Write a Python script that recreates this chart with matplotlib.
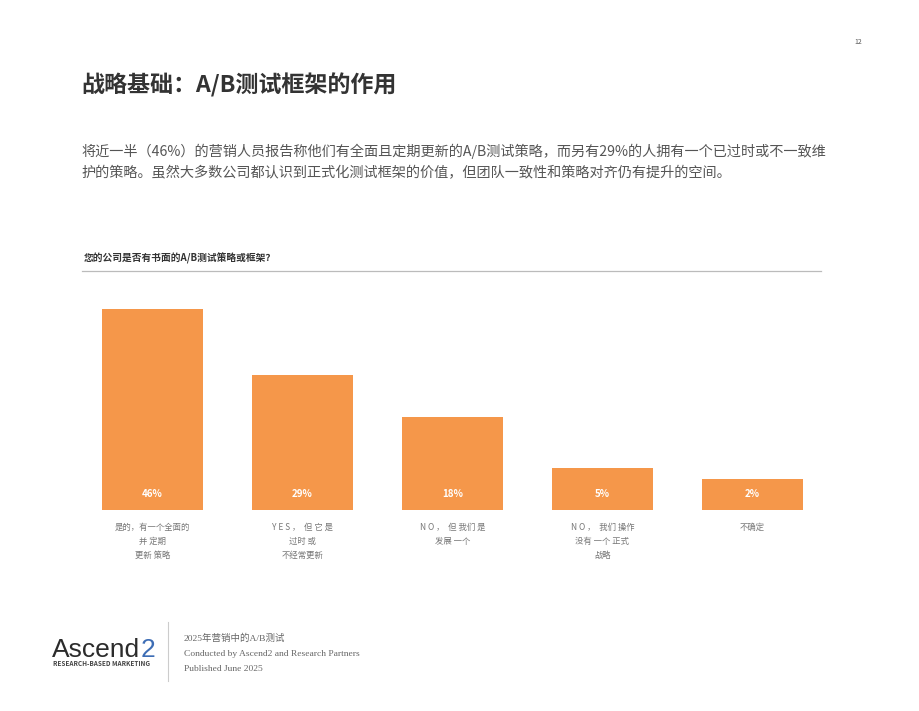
import matplotlib
matplotlib.use("Agg")
import matplotlib.pyplot as plt
import numpy as np

plt.rcParams['font.family'] = ['Noto Sans CJK SC', 'DejaVu Sans']

# data
categories = [
    "是的，有一个全面的\n并 定期\n更新 策略",
    "Y E S ，  但 它 是\n过时 或\n不经常更新",
    "N O ，  但 我们 是\n发展 一个",
    "N O ，  我们 操作\n没有 一个 正式\n战略",
    "不确定",
]
values = [46, 29, 18, 5, 2]
value_labels = ["46%", "29%", "18%", "5%", "2%"]

title = "战略基础：A/B测试框架的作用"
intro = ("将近一半（46%）的营销人员报告称他们有全面且定期更新的A/B测试策略，而另有29%的人拥有一个已过时或不一致维\n"
         "护的策略。虽然大多数公司都认识到正式化测试框架的价值，但团队一致性和策略对齐仍有提升的空间。")
question = "您的公司是否有书面的A/B测试策略或框架？"
footer_lines = ["2025年营销中的A/B测试", "Conducted by Ascend2 and Research Partners", "Published June 2025"]

W, H = 920, 711
bar_color = "#F5974A"
ymin, ymax = -6.0, 53.6

fig = plt.figure(figsize=(W / 100, H / 100), dpi=100)
fig.patch.set_facecolor("white")


def fx(px):
    return px / W


def fy(py):
    return 1 - py / H


# page number
fig.text(fx(858), fy(42), "12", fontsize=5, color="#555555", ha="center", va="center")

# title and intro
fig.text(fx(81), fy(85), title, fontsize=16.6, fontweight="bold", color="#333333", va="center")
fig.text(fx(81), fy(162), intro, fontsize=10.2, color="#555555", va="center", linespacing=1.7)

# question + rule
fig.text(fx(84), fy(258), question, fontsize=7, fontweight="bold", color="#333333", va="center")
fig.add_artist(plt.Line2D([fx(82), fx(821)], [fy(271), fy(271)], color="#bbbbbb", lw=0.9))

# bars
ax = fig.add_axes([fx(77.5), fy(510), fx(750), (510 - 280) / H])
x = np.arange(len(values))
vals = np.array(values, dtype=float)
ax.bar(x, vals - ymin, bottom=ymin, width=0.673, color=bar_color)
ax.set_xlim(-0.5, len(values) - 0.5)
ax.set_ylim(ymin, ymax)
for i, lab in enumerate(value_labels):
    ax.annotate(lab, xy=(i, ymin), xytext=(0, 16), textcoords="offset pixels",
                ha="center", va="center", fontsize=7, fontweight="bold", color="white")
ax.set_xticks(x)
ax.set_xticklabels(categories, fontsize=6, color="#777777", linespacing=1.75, va="top")
ax.tick_params(axis="x", length=0, pad=9)
ax.set_yticks([])
for s in ax.spines.values():
    s.set_visible(False)

# footer logo
logo = fig.text(fx(52), fy(657), "Ascend", fontsize=19, color="#2b2b2b",
                family=["Liberation Sans"], va="baseline")
ax.annotate("2", xy=(1, 0), xycoords=logo, fontsize=19, color="#3D6DB5",
            family=["Liberation Sans"], va="bottom", ha="left", annotation_clip=False)
fig.text(fx(53), fy(664), "RESEARCH-BASED MARKETING", fontsize=4.6, fontweight="bold",
         color="#444444", va="center")
fig.add_artist(plt.Line2D([fx(168), fx(168)], [fy(622), fy(681)], color="#cccccc", lw=0.8))
for i, line in enumerate(footer_lines):
    fig.text(fx(184), fy(638 + 15.5 * i), line, fontsize=6.8, color="#666666", va="center",
             family=["Liberation Serif", "Noto Sans CJK SC"])

fig.savefig("out.png", dpi=100)
